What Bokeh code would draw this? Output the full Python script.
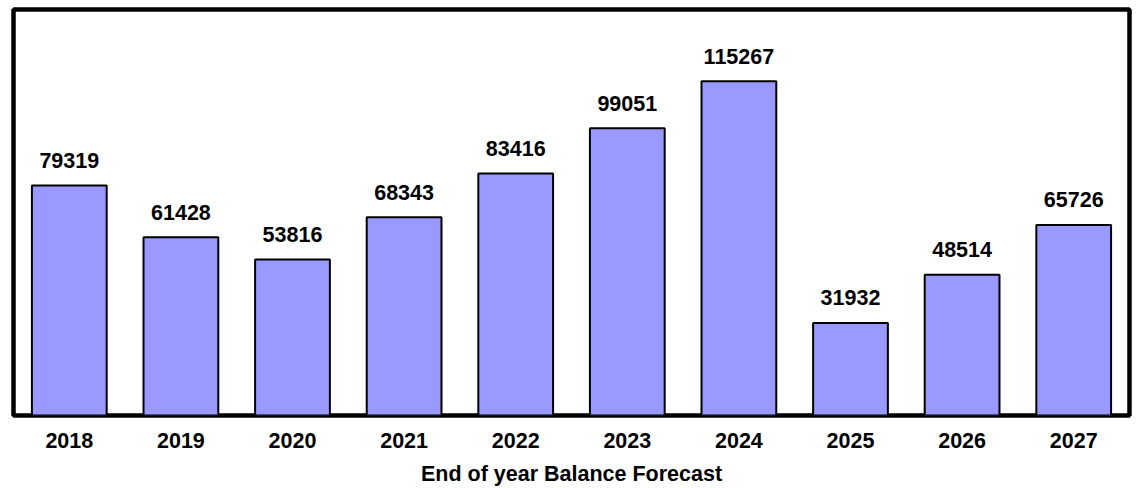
from bokeh.plotting import figure
from bokeh.models import ColumnDataSource, FactorRange, Range1d
from bokeh.core.properties import value
from bokeh.embed import file_html
from bokeh.resources import INLINE

years = ["2018", "2019", "2020", "2021", "2022", "2023", "2024", "2025", "2026", "2027"]
balances = [79319, 61428, 53816, 68343, 83416, 99051, 115267, 31932, 48514, 65726]
x_title = "End of year Balance Forecast"

FONT = "Liberation Sans"

src = ColumnDataSource(dict(x=years, top=balances, label=[str(v) for v in balances]))

p = figure(width=1141, height=488, output_backend="svg", toolbar_location=None,
           x_range=FactorRange(*years, range_padding=0), y_range=Range1d(0, 140000),
           min_border_left=13, min_border_right=12, min_border_top=9, min_border_bottom=73)

p.vbar(x="x", top="top", width=0.67, bottom=0, source=src,
       fill_color="#9999ff", line_color="black", line_width=2)

p.text(x="x", y="top", text="label", source=src, y_offset=-25,
       text_align="center", text_baseline="alphabetic",
       text_font=value(FONT), text_font_style="bold", text_font_size="21.5px",
       text_color="black")

p.outline_line_color = "black"
p.outline_line_width = 4.5
p.xgrid.visible = False
p.ygrid.visible = False
p.yaxis.visible = False

ax = p.xaxis[0]
ax.axis_line_color = None
ax.major_tick_line_color = None
ax.minor_tick_line_color = None
ax.major_tick_out = 0
ax.major_tick_in = 0
ax.major_label_standoff = 17
ax.major_label_text_font = FONT
ax.major_label_text_font_style = "bold"
ax.major_label_text_font_size = "21.5px"
ax.major_label_text_color = "black"
ax.axis_label = x_title
ax.axis_label_standoff = 11
ax.axis_label_text_font = FONT
ax.axis_label_text_font_style = "bold"
ax.axis_label_text_font_size = "21.5px"
ax.axis_label_text_color = "black"

open("out.html", "w").write(file_html(p, INLINE))
